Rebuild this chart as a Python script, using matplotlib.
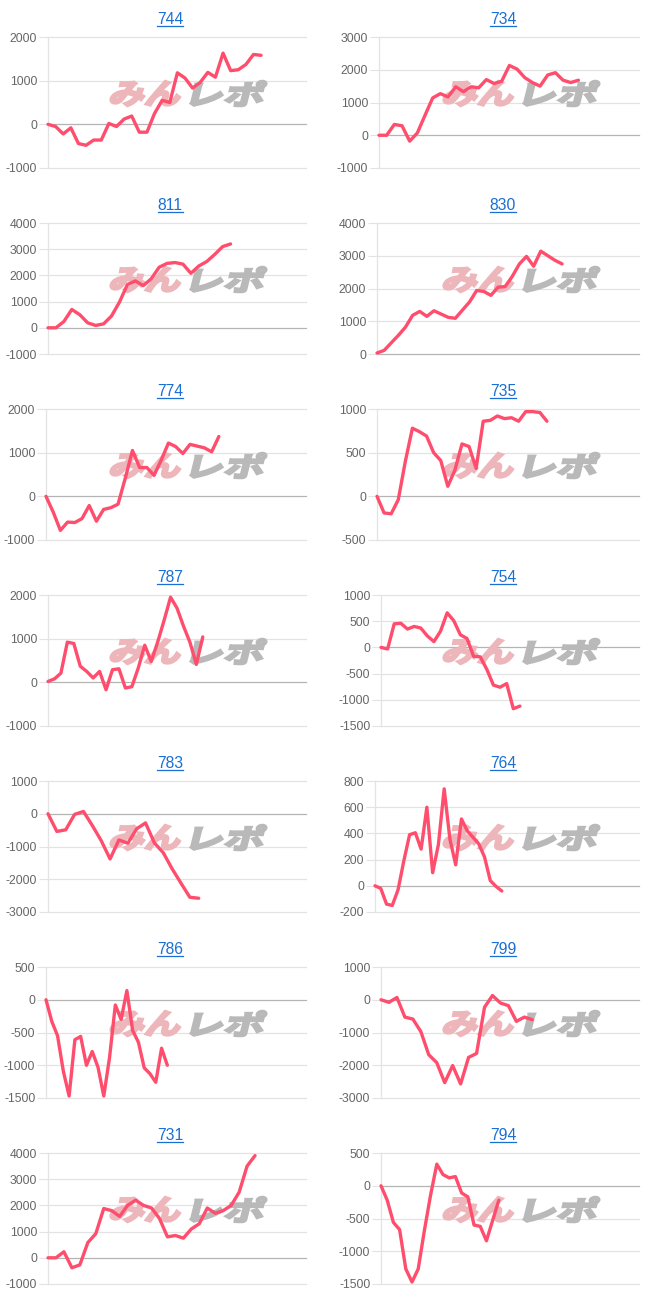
import matplotlib
matplotlib.use("Agg")
import matplotlib.pyplot as plt
import numpy as np
from matplotlib.textpath import TextPath
from matplotlib.font_manager import FontProperties
from matplotlib.patches import PathPatch
from matplotlib.transforms import Affine2D
from matplotlib.lines import Line2D

# ---------------- data ----------------
titles = ['744', '734', '811', '830', '774', '735', '787', '754',
          '783', '764', '786', '799', '731', '794']

v744 = [0, -50, -220, -80, -440, -480, -360, -360, 20, -50, 120, 190, -180, -180,
        250, 550, 500, 1180, 1060, 830, 960, 1190, 1080, 1630, 1230, 1250, 1370, 1600, 1580]
v734 = [0, 0, 330, 290, -180, 70, 610, 1140, 1270, 1170, 1480, 1330, 1480, 1450,
        1700, 1580, 1650, 2130, 2020, 1760, 1610, 1500, 1840, 1910, 1680, 1610, 1680]
v811 = [0, 0, 240, 700, 500, 190, 90, 150, 450, 980, 1650, 1790, 1610, 1870, 2310,
        2460, 2490, 2430, 2080, 2360, 2530, 2800, 3100, 3200]
v830 = [30, 110, 340, 570, 820, 1180, 1300, 1150, 1320, 1220, 1120, 1090, 1340, 1590,
        1940, 1910, 1790, 2040, 2060, 2370, 2750, 2980, 2680, 3140, 3000, 2860, 2750]
v774 = [0, -360, -780, -590, -600, -510, -210, -570, -300, -260, -180, 410, 1050, 660,
        660, 480, 830, 1220, 1140, 980, 1190, 1150, 1110, 1020, 1370]
v735 = [0, -190, -200, -40, 400, 780, 740, 690, 500, 410, 115, 300, 600, 570, 320,
        860, 870, 920, 890, 900, 860, 970, 970, 960, 860]
v787 = [20, 80, 210, 920, 890, 370, 250, 100, 250, -170, 290, 310, -130, -100, 330,
        850, 480, 920, 1420, 1950, 1700, 1290, 920, 410, 1040]
v754 = [0, -30, 450, 460, 350, 400, 370, 220, 110, 310, 660, 510, 240, 170, -170,
        -180, -420, -720, -760, -690, -1170, -1120]
v783 = [0, -540, -490, -20, 70, -360, -820, -1380, -800, -900, -460, -280, -890,
        -1190, -1680, -2120, -2550, -2580]
v764 = [0, -20, -140, -150, -30, 190, 390, 405, 280, 600, 100, 315, 740, 355, 160,
        510, 420, 370, 320, 220, 40, -5, -40]
v786 = [0, -330, -550, -1090, -1470, -610, -560, -1000, -790, -1030, -1470, -880,
        -80, -300, 140, -470, -650, -1040, -1130, -1260, -740, -1000]
v799 = [0, -80, 70, -530, -590, -970, -1680, -1920, -2530, -2010, -2570, -1760,
        -1640, -230, 130, -100, -180, -660, -530, -610]
v731 = [0, 0, 230, -380, -270, 580, 920, 1880, 1800, 1580, 2000, 2200, 2000, 1900,
        1500, 800, 850, 750, 1100, 1300, 1900, 1700, 1800, 2000, 2500, 3500, 3900]
v794 = [0, -220, -560, -670, -1270, -1470, -1270, -680, -140, 330, 170, 120, 140,
        -110, -170, -600, -620, -840, -530, -220]

series = [v744, v734, v811, v830, v774, v735, v787, v754,
          v783, v764, v786, v799, v731, v794]

y_min = [-1000, -1000, -1000, 0, -1000, -500, -1000, -1500, -3000, -200, -1500, -3000, -1000, -1500]
y_max = [2000, 3000, 4000, 4000, 2000, 1000, 2000, 1000, 1000, 800, 500, 1000, 4000, 500]
y_step = [1000, 1000, 1000, 1000, 1000, 500, 1000, 500, 1000, 200, 500, 1000, 1000, 500]

# ---------------- layout / style ----------------
W, H = 666, 1302
x_span = [33.9, 33.9, 32.5, 36.8, 36.1, 37.0, 40.0, 39.0, 29.1, 45.8, 45.0, 32.4, 32.4, 41.6]
left_off = [48, 46, 48, 44, 46, 44, 48, 48, 48, 42, 46, 48, 48, 48]
RIGHT_OFF = 306
TOP_OFF = 37
BOT_OFF = 168
COL_W = 333
ROW_H = 186

LINE_COLOR = '#ff4d6d'
GRID_COLOR = '#e3e3e3'
ZERO_COLOR = '#b4b4b4'
TITLE_COLOR = '#1a6fd4'
TICK_COLOR = '#666666'

plt.rcParams['font.family'] = ['Liberation Sans', 'DejaVu Sans']

fig = plt.figure(figsize=(W / 100, H / 100), dpi=100)
fig.patch.set_facecolor('white')
pix2fig = Affine2D().scale(1.0 / W, 1.0 / H) + fig.transFigure

wm_font = FontProperties(family='Noto Sans CJK JP', weight='bold')


def wm_path(text, w, h, shear=14):
    tp = TextPath((0, 0), text, size=100, prop=wm_font)
    ext = tp.get_extents()
    dx = np.tan(np.radians(shear)) * h
    tr = (Affine2D().translate(-ext.x0, -ext.y0)
          .scale((w - dx) / ext.width, h / ext.height)
          .skew_deg(shear, 0))
    return tr.transform_path(tp)


pink_path = wm_path('みん', 75, 25)
gray_path = wm_path('レポ', 77, 25)

title_texts = []
for i, (t, vals) in enumerate(zip(titles, series)):
    row, col = divmod(i, 2)
    px0 = col * COL_W
    py0 = row * ROW_H
    l = px0 + left_off[i]
    r = px0 + RIGHT_OFF
    top = py0 + TOP_OFF
    bot = py0 + BOT_OFF
    ax = fig.add_axes([l / W, 1 - bot / H, (r - l) / W, (bot - top) / H])
    ax.set_facecolor('none')

    x = np.arange(len(vals))
    ax.plot(x, vals, color=LINE_COLOR, lw=2.4, solid_joinstyle='round',
            solid_capstyle='round', zorder=4, clip_on=False)
    ax.set_xlim(0, x_span[i])
    ax.set_ylim(y_min[i], y_max[i])
    ticks = np.arange(y_min[i], y_max[i] + y_step[i] / 2, y_step[i])
    ax.set_yticks(ticks)
    ax.set_yticklabels([f'{int(v)}' for v in ticks])
    ax.set_xticks([])
    for yv in ticks:
        c = ZERO_COLOR if yv == 0 else GRID_COLOR
        ax.axhline(yv, color=c, lw=0.9, zorder=1, clip_on=False)
    ax.tick_params(axis='y', length=6.5, width=0.8, color=GRID_COLOR,
                   labelsize=8.8, labelcolor=TICK_COLOR, pad=1.2)
    for s in ['top', 'right', 'bottom']:
        ax.spines[s].set_visible(False)
    ax.spines['left'].set_color(GRID_COLOR)
    ax.spines['left'].set_linewidth(0.9)

    # watermark
    for path, color, wx in [(pink_path, '#ecb6ba', 109), (gray_path, '#b9b9b9', 190)]:
        p = PathPatch(path, facecolor=color, edgecolor=color, linewidth=1.8,
                      joinstyle='miter', zorder=2,
                      transform=Affine2D().translate(px0 + wx, H - (py0 + 106)) + pix2fig)
        ax.add_artist(p)
        p.set_clip_on(False)

    tt = fig.text((px0 + 170) / W, 1 - (py0 + 24) / H, t, ha='center', va='baseline',
                  color=TITLE_COLOR, fontsize=11.3)
    title_texts.append((tt, py0))

fig.canvas.draw()
renderer = fig.canvas.get_renderer()
for tt, py0 in title_texts:
    bb = tt.get_window_extent(renderer)
    yline = 1 - (py0 + 26) / H
    fig.add_artist(Line2D([bb.x0 / W, bb.x1 / W], [yline, yline],
                          transform=fig.transFigure, color=TITLE_COLOR, lw=0.9))

fig.savefig('out.png', dpi=100, facecolor='white')
